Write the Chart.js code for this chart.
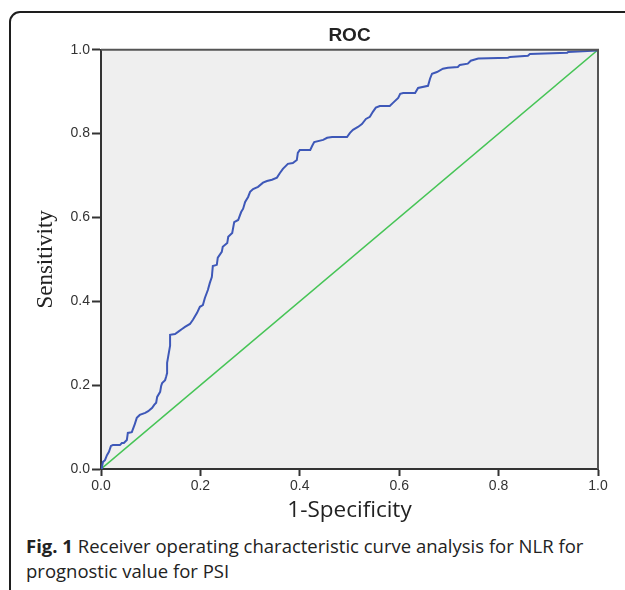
<!DOCTYPE html>
<html>
    <head>
        <meta charset="utf-8">
        <script src="https://cdn.jsdelivr.net/npm/chart.js@4.4.1/dist/chart.umd.min.js"></script>
        <style>
            body { margin: 0; width: 625px; height: 590px; overflow: hidden; background: #fff; position: relative; }
            .frame {
                position: absolute; left: 9px; top: 11px; width: 660px; height: 620px;
                border: 2px solid #1e1e1e; border-top-left-radius: 11px; box-sizing: border-box;
            }
            .chart-box { position: absolute; left: 0; top: 0; width: 625px; height: 525px; }
            .caption {
                position: absolute; left: 26px; top: 533px; width: 595px;
                font-family: "Open Sans", sans-serif; font-size: 18.5px; line-height: 25px; color: #222;
            }
            .caption b { font-weight: 700; }
        </style>
    </head>
    <body>
        <div class="frame"></div>
        <div class="chart-box">
            <canvas id="rocChart"></canvas>
        </div>
        <div class="caption"><b>Fig. 1</b> Receiver operating characteristic curve analysis for NLR for prognostic value for PSI</div>

        <script>
            // ROC curve for NLR
            const fprValues = [
                0, 0.002, 0.004, 0.008, 0.012, 0.016, 0.020, 0.024, 0.038, 0.042, 0.046, 0.052, 0.054, 0.062,
                0.068, 0.072, 0.078, 0.089, 0.095, 0.103, 0.107, 0.111, 0.113, 0.119, 0.121, 0.123, 0.129,
                0.131, 0.133, 0.133, 0.135, 0.139, 0.139, 0.149, 0.155, 0.163, 0.169, 0.179, 0.185, 0.193,
                0.199, 0.205, 0.209, 0.215, 0.219, 0.223, 0.225, 0.233, 0.235, 0.243, 0.245, 0.254, 0.256,
                0.264, 0.268, 0.276, 0.282, 0.286, 0.290, 0.296, 0.300, 0.306, 0.316, 0.326, 0.334, 0.344,
                0.354, 0.360, 0.366, 0.376, 0.386, 0.394, 0.396, 0.400, 0.421, 0.425, 0.429, 0.447, 0.455,
                0.465, 0.495, 0.501, 0.507, 0.517, 0.525, 0.533, 0.541, 0.547, 0.553, 0.561, 0.581, 0.588,
                0.598, 0.602, 0.608, 0.632, 0.638, 0.658, 0.662, 0.666, 0.676, 0.688, 0.698, 0.718, 0.722,
                0.738, 0.744, 0.759, 0.819, 0.823, 0.859, 0.863, 0.938, 0.940, 0.998, 1
            ];
            const tprValues = [
                0, 0.005, 0.017, 0.021, 0.033, 0.041, 0.055, 0.057, 0.057, 0.062, 0.062, 0.069, 0.086, 0.088,
                0.107, 0.122, 0.129, 0.134, 0.138, 0.146, 0.153, 0.158, 0.172, 0.184, 0.198, 0.205, 0.212,
                0.220, 0.229, 0.253, 0.267, 0.294, 0.320, 0.322, 0.327, 0.334, 0.339, 0.346, 0.356, 0.372,
                0.387, 0.391, 0.408, 0.427, 0.444, 0.458, 0.484, 0.487, 0.504, 0.518, 0.530, 0.539, 0.554,
                0.563, 0.589, 0.594, 0.613, 0.621, 0.637, 0.649, 0.661, 0.668, 0.673, 0.683, 0.687, 0.690,
                0.695, 0.706, 0.716, 0.728, 0.730, 0.737, 0.754, 0.761, 0.761, 0.771, 0.780, 0.785, 0.790,
                0.792, 0.792, 0.802, 0.809, 0.816, 0.823, 0.835, 0.840, 0.852, 0.862, 0.866, 0.866, 0.874,
                0.885, 0.895, 0.897, 0.897, 0.909, 0.914, 0.931, 0.943, 0.947, 0.955, 0.957, 0.959, 0.964,
                0.967, 0.974, 0.979, 0.981, 0.983, 0.986, 0.990, 0.993, 0.995, 0.998, 1
            ];
            // reference (chance) line
            const refX = [0, 1];
            const refY = [0, 1];
            const tickValues = [0, 0.2, 0.4, 0.6, 0.8, 1.0];

            function toPoints(xs, ys) {
                return xs.map((x, i) => ({ x: x, y: ys[i] }));
            }

            // grey plot background plus the top / right frame lines
            const plotFrame = {
                id: 'plotFrame',
                beforeDraw(chart) {
                    const { ctx, chartArea: a } = chart;
                    ctx.save();
                    ctx.fillStyle = '#efefef';
                    ctx.fillRect(a.left, a.top, a.right - a.left, a.bottom - a.top);
                    ctx.restore();
                },
                afterDraw(chart) {
                    const { ctx, chartArea: a } = chart;
                    ctx.save();
                    ctx.strokeStyle = '#555';
                    ctx.lineWidth = 2;
                    ctx.beginPath();
                    ctx.moveTo(a.left, a.top);
                    ctx.lineTo(a.right, a.top);
                    ctx.lineTo(a.right, a.bottom);
                    ctx.stroke();
                    ctx.restore();
                }
            };

            const tickFont = { family: 'Arial, "Liberation Sans"', size: 14 };

            new Chart(document.getElementById('rocChart'), {
                type: 'scatter',
                data: {
                    datasets: [
                        {
                            data: toPoints(fprValues, tprValues),
                            showLine: true,
                            borderColor: 'rgb(62, 88, 184)',
                            borderWidth: 2,
                            pointRadius: 0,
                            tension: 0,
                        },
                        {
                            data: toPoints(refX, refY),
                            showLine: true,
                            borderColor: 'rgb(70, 196, 86)',
                            borderWidth: 1.6,
                            pointRadius: 0,
                        }
                    ]
                },
                options: {
                    responsive: true,
                    maintainAspectRatio: false,
                    animation: false,
                    layout: { padding: { left: 0, right: 27, top: 0, bottom: 0 } },
                    plugins: {
                        legend: { display: false },
                        tooltip: { enabled: false },
                        title: {
                            display: true,
                            text: 'ROC',
                            fullSize: false,
                            color: '#222',
                            font: { family: 'Arial, "Liberation Sans"', size: 19, weight: 'bold' },
                            padding: { top: 24, bottom: 3 },
                        },
                    },
                    scales: {
                        x: {
                            type: 'linear',
                            min: 0,
                            max: 1,
                            afterFit: (scale) => { scale.height = 56; },
                            afterBuildTicks: (scale) => { scale.ticks = tickValues.map(v => ({ value: v })); },
                            ticks: {
                                color: '#333',
                                font: tickFont,
                                padding: 2,
                                maxRotation: 0,
                                callback: (v) => Number(v).toFixed(1),
                            },
                            grid: { drawOnChartArea: false, tickLength: 7, color: '#333', tickWidth: 2 },
                            border: { color: '#333', width: 2 },
                            title: {
                                display: true,
                                text: '1-Specificity',
                                color: '#222',
                                font: { family: '"Open Sans"', size: 22.5 },
                                padding: { top: 0, bottom: 1 },
                            },
                        },
                        y: {
                            type: 'linear',
                            min: 0,
                            max: 1,
                            afterFit: (scale) => { scale.width = 101; },
                            afterBuildTicks: (scale) => { scale.ticks = tickValues.map(v => ({ value: v })); },
                            ticks: {
                                color: '#333',
                                font: tickFont,
                                padding: 2,
                                callback: (v) => Number(v).toFixed(1),
                            },
                            grid: { drawOnChartArea: false, tickLength: 9, color: '#333', tickWidth: 2 },
                            border: { color: '#333', width: 2 },
                            title: {
                                display: true,
                                text: 'Sensitivity',
                                color: '#222',
                                font: { family: '"Liberation Serif", "Times New Roman", serif', size: 23 },
                                padding: { top: 32, bottom: 0 },
                            },
                        },
                    },
                },
                plugins: [plotFrame],
            });
        </script>
    </body>
</html>
